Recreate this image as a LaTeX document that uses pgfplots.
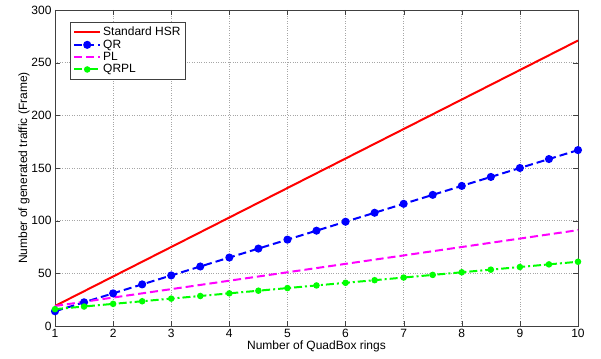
\documentclass[border=0pt]{standalone}
\usepackage{pgfplots}
\pgfplotsset{compat=1.18}
\usepackage{fontspec}
\setmainfont{Liberation Sans}
\definecolor{mred}{RGB}{255,0,0}
\definecolor{mblue}{RGB}{0,0,255}
\definecolor{mmag}{RGB}{255,0,255}
\definecolor{mgreen}{RGB}{0,255,0}
\begin{document}
\begin{tikzpicture}
\begin{axis}[
  scale only axis,
  width=523pt, height=316pt,
  xmin=1, xmax=10, ymin=0, ymax=300,
  xtick={1,2,...,10}, ytick={0,50,...,300},
  grid=major,
  grid style={dotted, gray!70, line width=0.6pt},
  axis line style={gray!50!black, line width=0.7pt},
  tick style={gray!50!black},
  tick align=inside,
  major tick length=5pt,
  tick label style={font=\fontsize{12}{14}\selectfont},
  /pgf/number format/assume math mode=true,
  label style={font=\fontsize{12}{14}\selectfont},
  xlabel={Number of QuadBox rings},
  ylabel={Number of generated traffic (Frame)},
  xlabel style={yshift=4pt},
  ylabel style={yshift=-5pt},
  legend style={at={(0.0287,0.962)}, anchor=north west, draw=gray!50!black,
    font=\fontsize{12}{14}\selectfont, inner sep=3pt, row sep=-1.5pt, cells={anchor=west}},
  legend image code/.code={\draw[mark repeat=2,mark phase=2,#1] plot coordinates {(0pt,0pt) (13pt,0pt) (26pt,0pt)};},
]
\addplot[mred, line width=2pt] coordinates {(1,19) (10,271)};
\addlegendentry{Standard HSR}
\addplot[mblue, line width=2pt, dash pattern=on 8pt off 4pt, mark=*, mark size=3pt, mark options={solid}] coordinates {
(1,14) (1.5,22.5) (2,31) (2.5,39.5) (3,48) (3.5,56.5) (4,65) (4.5,73.5) (5,82) (5.5,90.5) (6,99) (6.5,107.5) (7,116) (7.5,124.5) (8,133) (8.5,141.5) (9,150) (9.5,158.5) (10,167)};
\addlegendentry{QR}
\addplot[mmag, line width=2pt, dash pattern=on 8pt off 4pt] coordinates {(1,19) (10,91)};
\addlegendentry{PL}
\addplot[mgreen, line width=2pt, dash pattern=on 8pt off 3pt on 2pt off 3pt, mark=*, mark size=2.2pt, mark options={solid}] coordinates {
(1,16) (1.5,18.5) (2,21) (2.5,23.5) (3,26) (3.5,28.5) (4,31) (4.5,33.5) (5,36) (5.5,38.5) (6,41) (6.5,43.5) (7,46) (7.5,48.5) (8,51) (8.5,53.5) (9,56) (9.5,58.5) (10,61)};
\addlegendentry{QRPL}
\end{axis}
\path (current axis.south west) ++(-55pt,-32pt) coordinate (bbA);
\path (current axis.north east) ++(23pt,10pt) coordinate (bbB);
\useasboundingbox (bbA) rectangle (bbB);
\end{tikzpicture}
\end{document}
